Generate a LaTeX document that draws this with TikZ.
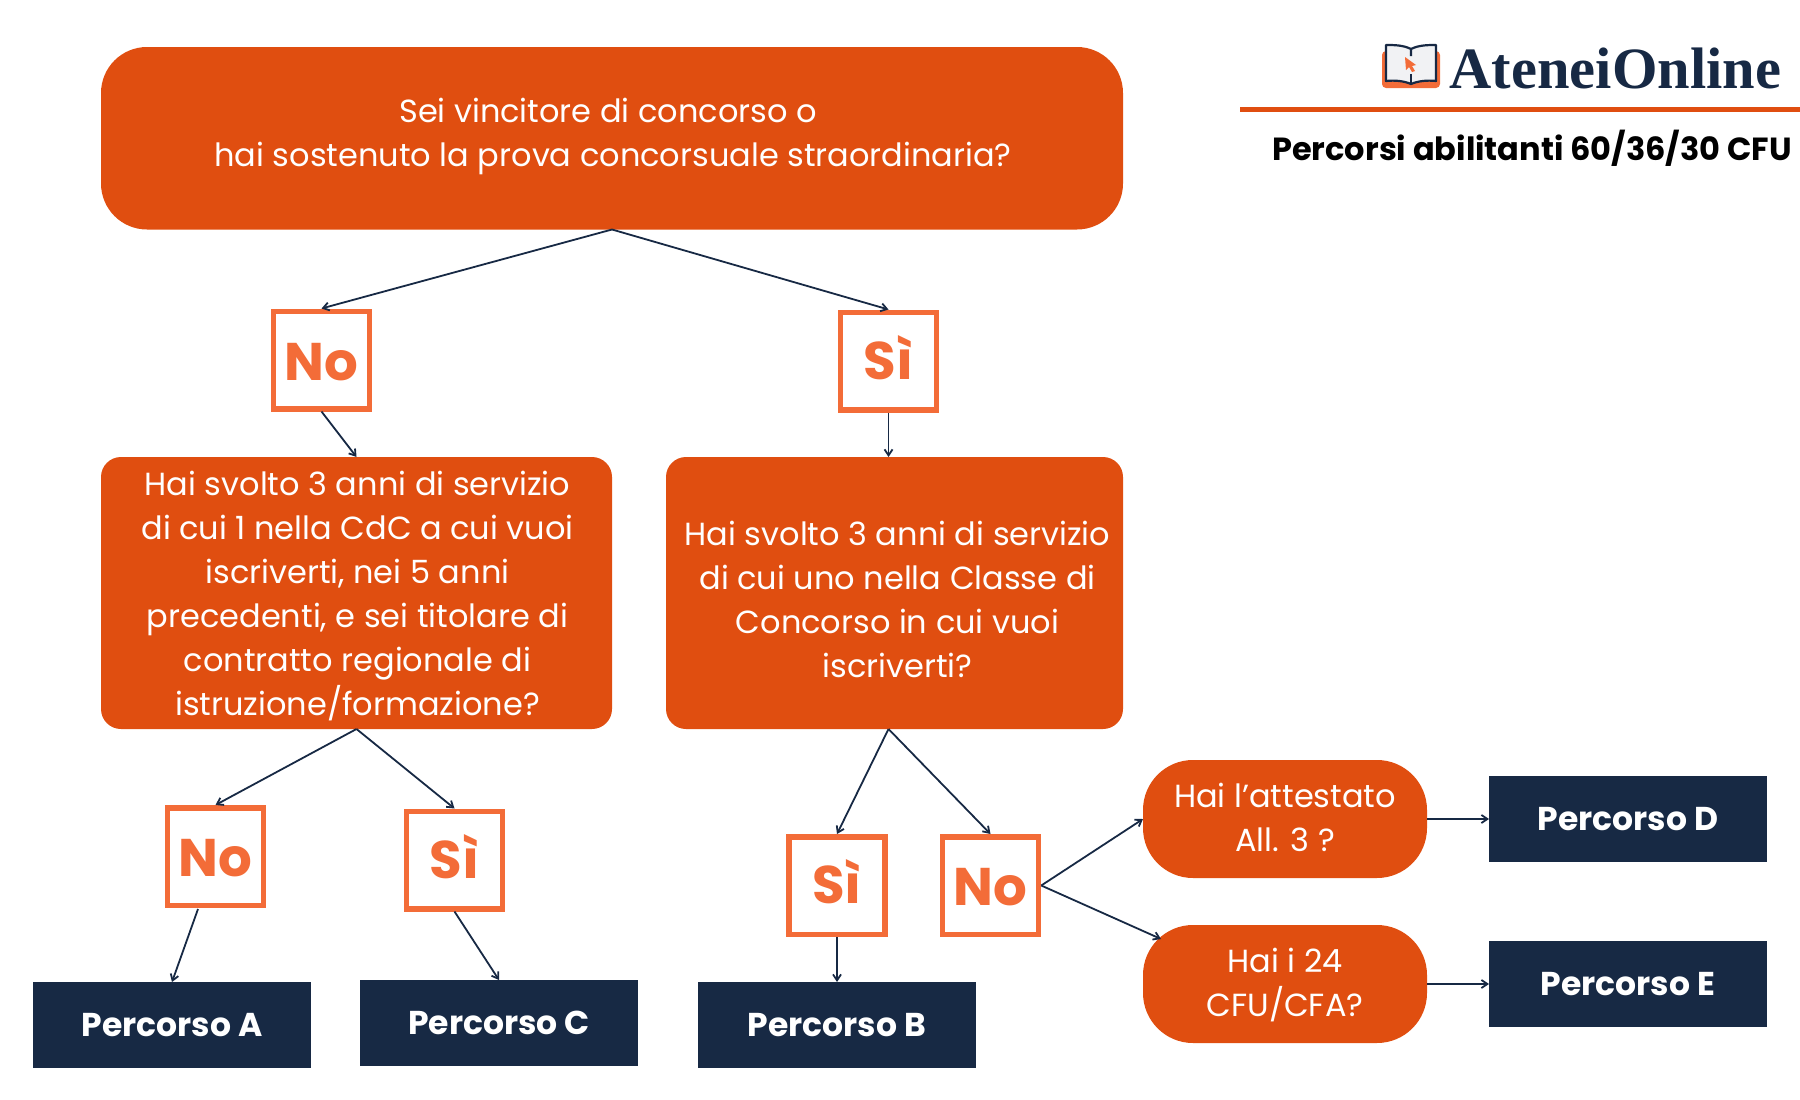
\documentclass[tikz,border=0pt]{standalone}
\usepackage{fontspec}
\setmainfont{Poppins}
\newfontfamily\logofont{Liberation Serif}
\usetikzlibrary{arrows.meta}
\definecolor{qorange}{HTML}{E04E10}
\definecolor{frameorange}{HTML}{F36C38}
\definecolor{navy}{HTML}{172944}
\newcommand{\nolabel}{\rule{0pt}{41pt}No}
\newcommand{\silabel}{\rule[-8pt]{0pt}{52pt}Sì}
\newcommand{\ra}{\hspace*{6pt}}
\newcommand{\la}{\hspace*{2pt}}
\tikzset{
  qbox/.style={fill=qorange,text=white,align=center,inner sep=0pt,outer sep=0pt,font=\fontsize{32}{44}\selectfont},
  answer/.style={draw=frameorange,line width=5.5pt,fill=white,text=frameorange,minimum width=96pt,minimum height=97.5pt,inner sep=0pt,font=\fontsize{53}{60}\selectfont\bfseries},
  result/.style={fill=navy,text=white,minimum width=278pt,minimum height=86pt,inner sep=0pt,outer sep=0pt,font=\fontsize{33}{36}\selectfont\bfseries},
  link/.style={draw=navy,line width=1.8pt,-{Straight Barb[length=6pt,width=8pt]}},
}
\begin{document}
\begin{tikzpicture}[x=1pt,y=-1pt]
\useasboundingbox (0,0) rectangle (1800,1100);
% main questions
\node[qbox,minimum width=1022pt,minimum height=182.5pt,rounded corners=46pt] (top) at (612,138.25) {\raisebox{7pt}{\parbox{900pt}{\centering Sei vincitore di concorso o\rule{8pt}{0pt}\\\hspace*{2pt}hai sostenuto la prova concorsuale straordinaria?\rule[-11pt]{0pt}{11pt}}}};
\node[qbox,minimum width=511pt,minimum height=272pt,rounded corners=20pt] (lbox) at (356.5,593) {\rule{0pt}{31pt}\la Hai svolto 3 anni di servizio\\\la di cui 1 nella CdC a cui vuoi\\\la iscriverti, nei 5 anni\\\la precedenti, e sei titolare di\\\la contratto regionale di\\\la istruzione/formazione?};
\node[qbox,minimum width=457pt,minimum height=272pt,rounded corners=20pt] (rbox) at (894.5,593) {\rule{0pt}{38pt}\ra Hai svolto 3 anni di servizio\\\ra di cui uno nella Classe di\\\ra Concorso in cui vuoi\\\ra iscriverti?};
\node[qbox,minimum width=284pt,minimum height=118pt,rounded corners=50pt] (q1) at (1285,819) {Hai l’attestato\\All. 3 ?\rule[-3pt]{0pt}{3pt}};
\node[qbox,minimum width=284pt,minimum height=118pt,rounded corners=50pt] (q2) at (1285,984) {\rule{0pt}{26pt}Hai i 24\\CFU/CFA?};
% answers
\node[answer] (no1) at (321.5,360) {\nolabel};
\node[answer] (si1) at (888.5,361) {\silabel};
\node[answer] (no2) at (215.5,856.5) {\nolabel};
\node[answer] (si2) at (454.5,860) {\silabel};
\node[answer] (si3) at (837,885.5) {\silabel};
\node[answer] (no3) at (990.5,885.5) {\nolabel};
% results
\node[result] (pa) at (172,1025) {Percorso A};
\node[result] (pc) at (499,1023) {Percorso C};
\node[result] (pb) at (837,1025) {Percorso B};
\node[result] (pd) at (1628,819) {Percorso D};
\node[result] (pe) at (1628,984) {Percorso E};
% connector ends off the anchors
\coordinate (no2out) at (198,909);
\coordinate (q2in) at (1161,939);
\coordinate (rout) at (si1.south |- rbox.south);
\coordinate (rin) at (si1.south |- rbox.north);
% connectors
\draw[link] (top.south) -- (no1.north);
\draw[link] (top.south) -- (si1.north);
\draw[link] (no1.south) -- (lbox.north);
\draw[link] (si1.south) -- (rin);
\draw[link] (lbox.south) -- (no2.north);
\draw[link] (lbox.south) -- (si2.north);
\draw[link] (rout) -- (si3.north);
\draw[link] (rout) -- (no3.north);
\draw[link] (no2out) -- (pa.north);
\draw[link] (si2.south) -- (pc.north);
\draw[link] (si3.south) -- (pb.north);
\draw[link] (no3.east) -- (q1.west);
\draw[link] (no3.east) -- (q2in);
\draw[link] (q1.east) -- (pd.west);
\draw[link] (q2.east) -- (pe.west);
% logo
\fill[frameorange,rounded corners=4pt] (1382,51) rectangle (1440,88);
\fill[white!94!navy] (1411,49) .. controls (1403,45) and (1394,45) .. (1386,45) -- (1386,81) .. controls (1395,80) and (1404,81) .. (1411,84) .. controls (1418,81) and (1427,80) .. (1436,81) -- (1436,45) .. controls (1428,45) and (1419,45) .. (1411,49) -- cycle;
\draw[navy,line width=2.2pt,line join=round] (1411,49) .. controls (1403,45) and (1394,45) .. (1386,45) -- (1386,81) .. controls (1395,80) and (1404,81) .. (1411,84) .. controls (1418,81) and (1427,80) .. (1436,81) -- (1436,45) .. controls (1428,45) and (1419,45) .. (1411,49) -- (1411,56);
\draw[navy,line width=2.2pt] (1411,74) -- (1411,84);
\fill[frameorange] (1405,57) -- (1416,65) -- (1412,66) -- (1415,71) -- (1412,72) -- (1409,67) -- (1406,70) -- cycle;
\node[anchor=base west,inner sep=0pt,text=navy] (brand) at (1449.5,88) {\logofont\bfseries\fontsize{58.5}{60}\selectfont AteneiOnline};
\draw[qorange,line width=5pt] (1240,109.5) -- (1800,109.5);
\node[anchor=base west,inner sep=0pt,text=black] (subtitle) at (1272,160) {\fontsize{32}{36}\selectfont\bfseries Percorsi abilitanti 60/36/30 CFU};
\end{tikzpicture}
\end{document}
